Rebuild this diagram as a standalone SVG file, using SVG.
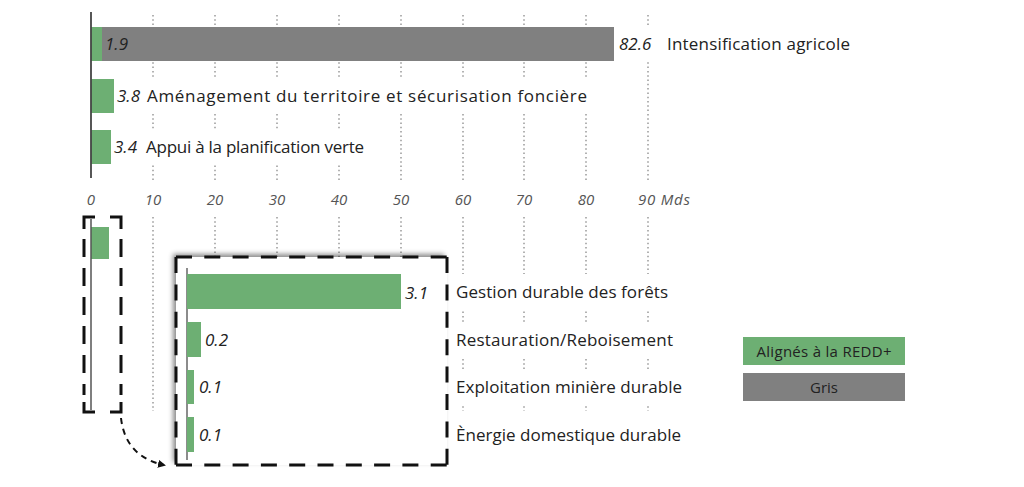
<svg xmlns="http://www.w3.org/2000/svg" width="1024" height="487" viewBox="0 0 1024 487">
<style>
text{font-family:"Open Sans","Liberation Sans",sans-serif;fill:#222}
.lbl{font-size:17px}
.num{font-size:17px;font-style:italic}
.ax{font-size:15px;font-style:italic;fill:#555;text-anchor:middle}
.grid{stroke:#999;stroke-width:1.5;stroke-dasharray:1.5 2.8;fill:none}
.band{fill:#fff}
.g{fill:#6daf73}
.k{fill:#808080}
.dash{stroke:#111;stroke-width:3;fill:none}
.axis{stroke:#444;stroke-width:1.8}
</style>
<defs>
<filter id="sh" x="-10%" y="-10%" width="120%" height="120%">
<feDropShadow dx="-3" dy="-3" stdDeviation="2.5" flood-color="#000" flood-opacity="0.45"/>
</filter>
<marker id="ah" markerWidth="8" markerHeight="8" refX="6" refY="4" orient="auto" markerUnits="userSpaceOnUse">
<path d="M0,0 L8,4 L0,8 Z" fill="#111"/>
</marker>
</defs>
<rect width="1024" height="487" fill="#fff"/>
<g id="grid">
<path class="grid" d="M153,15V180M215,15V180M277,15V180M339,15V180M401,15V180M463,15V180M524,15V180M586,15V180M648,15V180"/>
<path class="grid" d="M153,217V411M215,217V411M277,217V411M339,217V411M401,217V411M463,217V411M524,217V411M586,217V411M648,217V411"/>
</g>
<g id="axis-labels">
<text class="ax" x="91" y="205">0</text>
<text class="ax" x="153" y="205">10</text>
<text class="ax" x="215" y="205">20</text>
<text class="ax" x="277" y="205">30</text>
<text class="ax" x="339" y="205">40</text>
<text class="ax" x="401" y="205">50</text>
<text class="ax" x="463" y="205">60</text>
<text class="ax" x="524" y="205">70</text>
<text class="ax" x="586" y="205">80</text>
<text class="ax" x="638" y="205" style="text-anchor:start" textLength="52">90 Mds</text>
</g>
<g id="row-intensification">
<rect class="band" x="616" y="27" width="240" height="34"/>
<rect class="k" x="102" y="27" width="512" height="34"/>
<rect class="g" x="91" y="27" width="11" height="34"/>
<text class="num" x="105" y="50">1.9</text>
<text class="num" x="619" y="50">82.6</text>
<text class="lbl" x="667" y="50" textLength="183">Intensification agricole</text>
</g>
<g id="row-amenagement">
<rect class="band" x="115" y="79" width="476" height="34"/>
<rect class="g" x="91" y="79" width="23" height="34"/>
<text class="num" x="117" y="102">3.8</text>
<text class="lbl" x="147" y="102" textLength="440">Aménagement du territoire et sécurisation foncière</text>
</g>
<g id="row-appui">
<rect class="band" x="112" y="130" width="256" height="34"/>
<rect class="g" x="91" y="130" width="20" height="34"/>
<text class="num" x="114" y="153">3.4</text>
<text class="lbl" x="146" y="153" textLength="218">Appui à la planification verte</text>
</g>
<line class="axis" x1="91" y1="12" x2="91" y2="178"/>
<g id="small-box">
<rect class="g" x="91" y="227" width="18" height="32"/>
<line x1="91" y1="219" x2="91" y2="410" stroke="#555" stroke-width="1.5"/>
<path class="dash" d="M84,229V217H95"/>
<path class="dash" d="M110,217H121V229"/>
<line class="dash" x1="84" y1="239" x2="84" y2="395" stroke-dasharray="18 11"/>
<line class="dash" x1="121" y1="239" x2="121" y2="395" stroke-dasharray="18 11"/>
<path class="dash" d="M84,402V412H95"/>
<path class="dash" d="M110,412H121V402"/>
</g>
<g id="zoom-box">
<rect x="176" y="257" width="271" height="208" fill="#fff" filter="url(#sh)"/>
<line class="dash" x1="176" y1="257" x2="447" y2="257" stroke-dasharray="16 12.3"/>
<line class="dash" x1="176" y1="465" x2="447" y2="465" stroke-dasharray="16 12.3"/>
<line class="dash" x1="176" y1="257" x2="176" y2="465" stroke-dasharray="16 11.4"/>
<line class="dash" x1="447" y1="257" x2="447" y2="465" stroke-dasharray="16 11.4"/>
<line x1="187" y1="268" x2="187" y2="460" stroke="#666" stroke-width="1.5"/>
</g>
<g id="row-gestion">
<rect class="band" x="452" y="274" width="240" height="35"/>
<rect class="g" x="187" y="274" width="214" height="35"/>
<text class="num" x="405" y="299">3.1</text>
<text class="lbl" x="456" y="298" textLength="212">Gestion durable des forêts</text>
</g>
<g id="row-restauration">
<rect class="band" x="452" y="322" width="240" height="35"/>
<rect class="g" x="187" y="322" width="14" height="35"/>
<text class="num" x="205" y="346">0.2</text>
<text class="lbl" x="456" y="346" textLength="217">Restauration/Reboisement</text>
</g>
<g id="row-exploitation">
<rect class="band" x="452" y="370" width="240" height="35"/>
<rect class="g" x="187" y="370" width="7" height="34"/>
<text class="num" x="199" y="393">0.1</text>
<text class="lbl" x="456" y="393" textLength="226">Exploitation minière durable</text>
</g>
<g id="row-energie">
<rect class="band" x="452" y="417" width="240" height="35"/>
<rect class="g" x="187" y="417" width="7" height="35"/>
<text class="num" x="199" y="441">0.1</text>
<text class="lbl" x="456" y="441" textLength="225">Ènergie domestique durable</text>
</g>
<g id="connectors">
<path d="M121,418 C124,445 140,460 164,465" fill="none" stroke="#111" stroke-width="2" stroke-dasharray="6 5" marker-end="url(#ah)"/>
</g>
<g id="legend-redd">
<rect class="g" x="743" y="337" width="162" height="28"/>
<text x="824" y="357" style="font-size:15px;text-anchor:middle" textLength="135">Alignés à la REDD+</text>
</g>
<g id="legend-gris">
<rect class="k" x="743" y="373" width="162" height="28"/>
<text x="824" y="393" style="font-size:15px;text-anchor:middle">Gris</text>
</g>
</svg>
